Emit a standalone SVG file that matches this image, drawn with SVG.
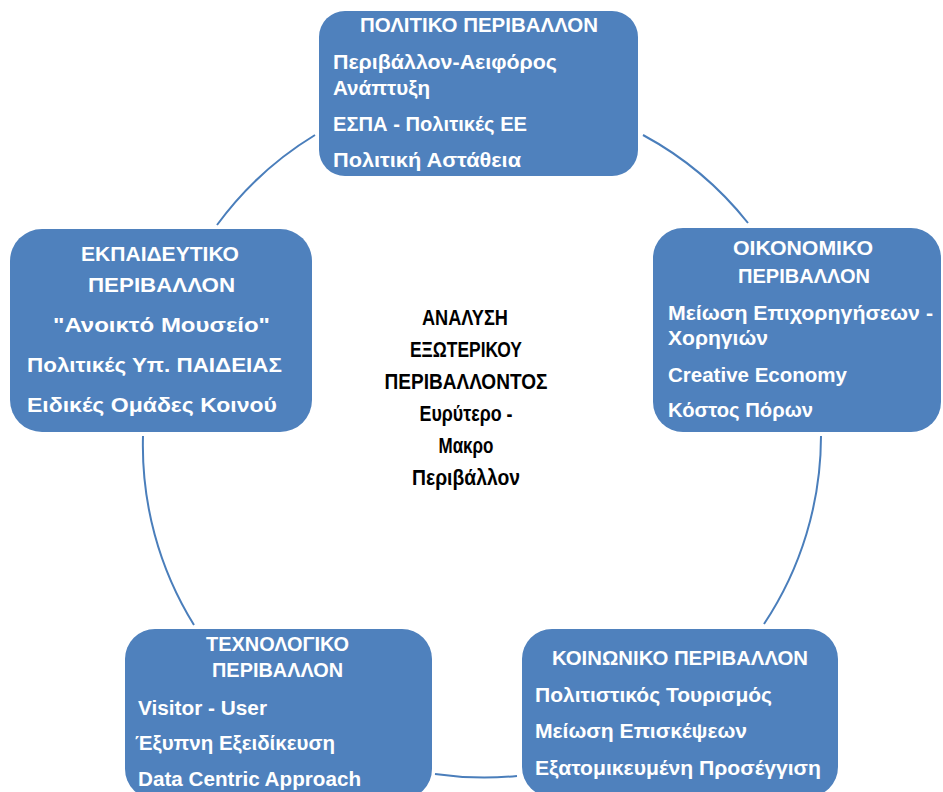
<svg xmlns="http://www.w3.org/2000/svg" width="943" height="792" viewBox="0 0 943 792">
  <style>
    .box { fill: #4f81bd; }
    .t { font-family: "Liberation Sans", "DejaVu Sans", sans-serif; font-weight: bold; font-size: 20px; fill: #ffffff; }
    .big { font-size: 21px; }
    .c { text-anchor: middle; }
    .center { font-family: "Liberation Sans", "DejaVu Sans", sans-serif; font-weight: bold; font-size: 21.5px; fill: #000000; text-anchor: middle; }
    .link { fill: none; stroke: #4a7ebb; stroke-width: 2; }
  </style>
  <rect width="943" height="792" fill="#ffffff"/>

  <!-- connectors: arcs of one circle around the centre text -->
  <g id="connectors">
    <path class="link" d="M217,225 A340,340 0 0 1 315,135"/>
    <path class="link" d="M643,135 A340,340 0 0 1 748,223"/>
    <path class="link" d="M821,436 A340,340 0 0 1 764,624"/>
    <path class="link" d="M517,776 A340,340 0 0 1 435,774"/>
    <path class="link" d="M194,625 A340,340 0 0 1 143,436"/>
  </g>

  <g id="center">
    <text class="center" x="465" y="325" textLength="86" lengthAdjust="spacingAndGlyphs">ΑΝΑΛΥΣΗ</text>
    <text class="center" x="466" y="357" textLength="112" lengthAdjust="spacingAndGlyphs">ΕΞΩΤΕΡΙΚΟΥ</text>
    <text class="center" x="466" y="389" textLength="163" lengthAdjust="spacingAndGlyphs">ΠΕΡΙΒΑΛΛΟΝΤΟΣ</text>
    <text class="center" x="466" y="421" textLength="93" lengthAdjust="spacingAndGlyphs">Ευρύτερο -</text>
    <text class="center" x="466" y="453" textLength="55" lengthAdjust="spacingAndGlyphs">Μακρο</text>
    <text class="center" x="466" y="485" textLength="108" lengthAdjust="spacingAndGlyphs">Περιβάλλον</text>
  </g>

  <g id="political">
    <rect class="box" x="319" y="11" width="319" height="165" rx="26"/>
    <text class="t c" x="479" y="32" textLength="238" lengthAdjust="spacingAndGlyphs">ΠΟΛΙΤΙΚΟ ΠΕΡΙΒΑΛΛΟΝ</text>
    <text class="t" x="333" y="69" textLength="224" lengthAdjust="spacingAndGlyphs">Περιβάλλον-Αειφόρος</text>
    <text class="t" x="333" y="95" textLength="97" lengthAdjust="spacingAndGlyphs">Ανάπτυξη</text>
    <text class="t" x="333" y="131" textLength="194" lengthAdjust="spacingAndGlyphs">ΕΣΠΑ - Πολιτικές ΕΕ</text>
    <text class="t" x="333" y="167" textLength="188" lengthAdjust="spacingAndGlyphs">Πολιτική Αστάθεια</text>
  </g>

  <g id="economic">
    <rect class="box" x="653" y="228" width="288" height="204" rx="30"/>
    <text class="t c" x="803" y="255" textLength="140" lengthAdjust="spacingAndGlyphs">ΟΙΚΟΝΟΜΙΚΟ</text>
    <text class="t c" x="804" y="283" textLength="132" lengthAdjust="spacingAndGlyphs">ΠΕΡΙΒΑΛΛΟΝ</text>
    <text class="t" x="668" y="320" textLength="265" lengthAdjust="spacingAndGlyphs">Μείωση Επιχορηγήσεων -</text>
    <text class="t" x="668" y="345" textLength="100" lengthAdjust="spacingAndGlyphs">Χορηγιών</text>
    <text class="t" x="668" y="382" textLength="179" lengthAdjust="spacingAndGlyphs">Creative Economy</text>
    <text class="t" x="668" y="417" textLength="145" lengthAdjust="spacingAndGlyphs">Κόστος Πόρων</text>
  </g>

  <g id="social">
    <rect class="box" x="522" y="629" width="316" height="168" rx="30"/>
    <text class="t c" x="680" y="665" textLength="256" lengthAdjust="spacingAndGlyphs">ΚΟΙΝΩΝΙΚΟ ΠΕΡΙΒΑΛΛΟΝ</text>
    <text class="t" x="535" y="702" textLength="237" lengthAdjust="spacingAndGlyphs">Πολιτιστικός Τουρισμός</text>
    <text class="t" x="535" y="738" textLength="212" lengthAdjust="spacingAndGlyphs">Μείωση Επισκέψεων</text>
    <text class="t" x="535" y="775" textLength="286" lengthAdjust="spacingAndGlyphs">Εξατομικευμένη Προσέγγιση</text>
  </g>

  <g id="technological">
    <rect class="box" x="125" y="629" width="307" height="170" rx="30"/>
    <text class="t c" x="277.5" y="651" textLength="143" lengthAdjust="spacingAndGlyphs">ΤΕΧΝΟΛΟΓΙΚΟ</text>
    <text class="t c" x="277.5" y="677" textLength="131" lengthAdjust="spacingAndGlyphs">ΠΕΡΙΒΑΛΛΟΝ</text>
    <text class="t" x="138" y="715" textLength="129" lengthAdjust="spacingAndGlyphs">Visitor - User</text>
    <text class="t" x="135" y="750" textLength="200" lengthAdjust="spacingAndGlyphs">Έξυπνη Εξειδίκευση</text>
    <text class="t" x="138" y="786" textLength="223" lengthAdjust="spacingAndGlyphs">Data Centric Approach</text>
  </g>

  <g id="educational">
    <rect class="box" x="10" y="229" width="302" height="203" rx="32"/>
    <text class="t big c" x="160" y="261" textLength="158" lengthAdjust="spacingAndGlyphs">ΕΚΠΑΙΔΕΥΤΙΚΟ</text>
    <text class="t big c" x="161.5" y="292" textLength="147" lengthAdjust="spacingAndGlyphs">ΠΕΡΙΒΑΛΛΟΝ</text>
    <text class="t big c" x="161.5" y="332" textLength="217" lengthAdjust="spacingAndGlyphs">"Ανοικτό Μουσείο"</text>
    <text class="t big c" x="154.5" y="372" textLength="255" lengthAdjust="spacingAndGlyphs">Πολιτικές Υπ. ΠΑΙΔΕΙΑΣ</text>
    <text class="t big c" x="152" y="412" textLength="250" lengthAdjust="spacingAndGlyphs">Ειδικές Ομάδες Κοινού</text>
  </g>
</svg>
